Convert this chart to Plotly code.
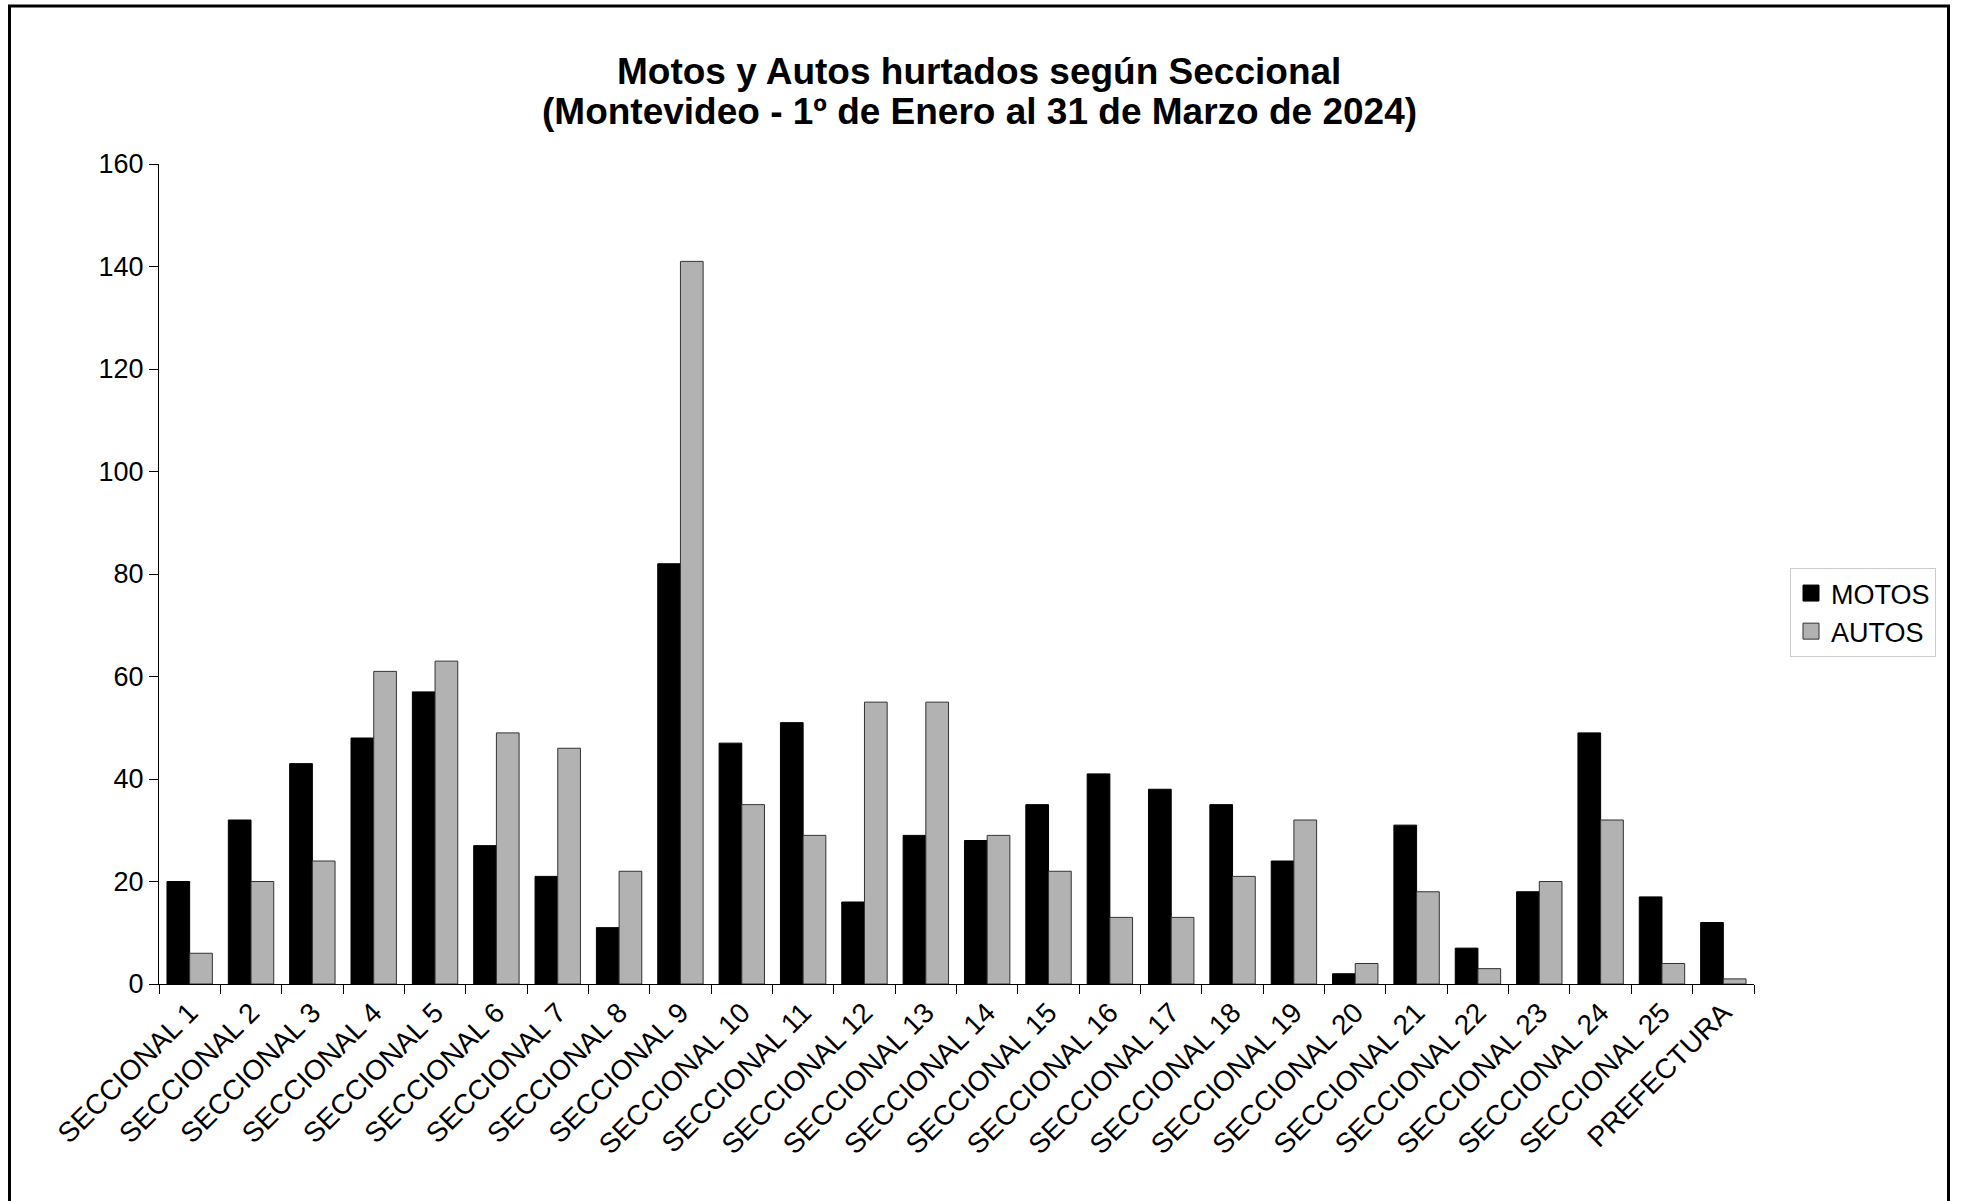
import plotly.graph_objects as go

categories = [f"SECCIONAL {i}" for i in range(1, 26)] + ["PREFECTURA"]
motos = [20, 32, 43, 48, 57, 27, 21, 11, 82, 47, 51, 16, 29, 28, 35, 41, 38, 35, 24, 2, 31, 7, 18, 49, 17, 12]
autos = [6, 20, 24, 61, 63, 49, 46, 22, 141, 35, 29, 55, 55, 29, 22, 13, 13, 21, 32, 4, 18, 3, 20, 32, 4, 1]
y_ticks = [0, 20, 40, 60, 80, 100, 120, 140, 160]
title_lines = ["Motos y Autos hurtados según Seccional", "(Montevideo - 1º de Enero al 31 de Marzo de 2024)"]

W, H = 1961, 1201
L, R, T, B = 159, 1754, 164, 984
pw, ph = R - L, B - T

def px(x):
    return (x - L) / pw

def py(y):
    return (B - y) / ph

font_family = "Liberation Sans, Arial, sans-serif"
moto_color = "#000000"
auto_color = "#b2b2b2"

fig = go.Figure()
fig.add_trace(go.Bar(x=categories, y=motos, name="MOTOS", showlegend=False,
                     marker=dict(color=moto_color, line=dict(color="#000000", width=1))))
fig.add_trace(go.Bar(x=categories, y=autos, name="AUTOS", showlegend=False,
                     marker=dict(color=auto_color, line=dict(color="#333333", width=1))))
# legend entries (square symbols)
fig.add_trace(go.Scatter(x=[None], y=[None], mode="markers", name="MOTOS",
                         marker=dict(symbol="square", size=17, color=moto_color,
                                     line=dict(color="#000000", width=1))))
fig.add_trace(go.Scatter(x=[None], y=[None], mode="markers", name="AUTOS",
                         marker=dict(symbol="square", size=17, color=auto_color,
                                     line=dict(color="#333333", width=1))))

fig.update_layout(
    width=W, height=H,
    margin=dict(l=L, r=W - R, t=T, b=H - B, autoexpand=False),
    paper_bgcolor="white", plot_bgcolor="white",
    barmode="group", bargap=0.26, bargroupgap=0,
    font=dict(family=font_family, color="black", size=27),
    showlegend=True,
    legend=dict(x=px(1790), y=py(568), xanchor="left", yanchor="top",
                bordercolor="#cccccc", borderwidth=1, bgcolor="white",
                font=dict(size=27), tracegroupgap=0, itemwidth=30),
    xaxis=dict(showline=True, linecolor="black", linewidth=1, ticks="outside",
               tickson="boundaries", ticklen=9, tickcolor="black", tickangle=-45,
               tickfont=dict(size=28), showgrid=False),
    yaxis=dict(range=[0, 160], tickvals=y_ticks, showline=True, linecolor="black",
               linewidth=1, ticks="outside", ticklen=9, tickcolor="black",
               tickfont=dict(size=27), showgrid=False, zeroline=False),
)

for i, line in enumerate(title_lines):
    fig.add_annotation(text=f"<b>{line}</b>", xref="paper", yref="paper",
                       x=px(979), y=py([72, 112][i]), xanchor="center", yanchor="middle",
                       showarrow=False, font=dict(size=37, family=font_family, color="black"))

fig.add_shape(type="rect", xref="paper", yref="paper",
              x0=px(9.5), x1=px(1948.5), y0=py(1220), y1=py(6),
              line=dict(color="black", width=3), fillcolor="rgba(0,0,0,0)")

fig.write_html("out.html", config={"displayModeBar": False},
               post_script="document.body.style.margin='0px';")
